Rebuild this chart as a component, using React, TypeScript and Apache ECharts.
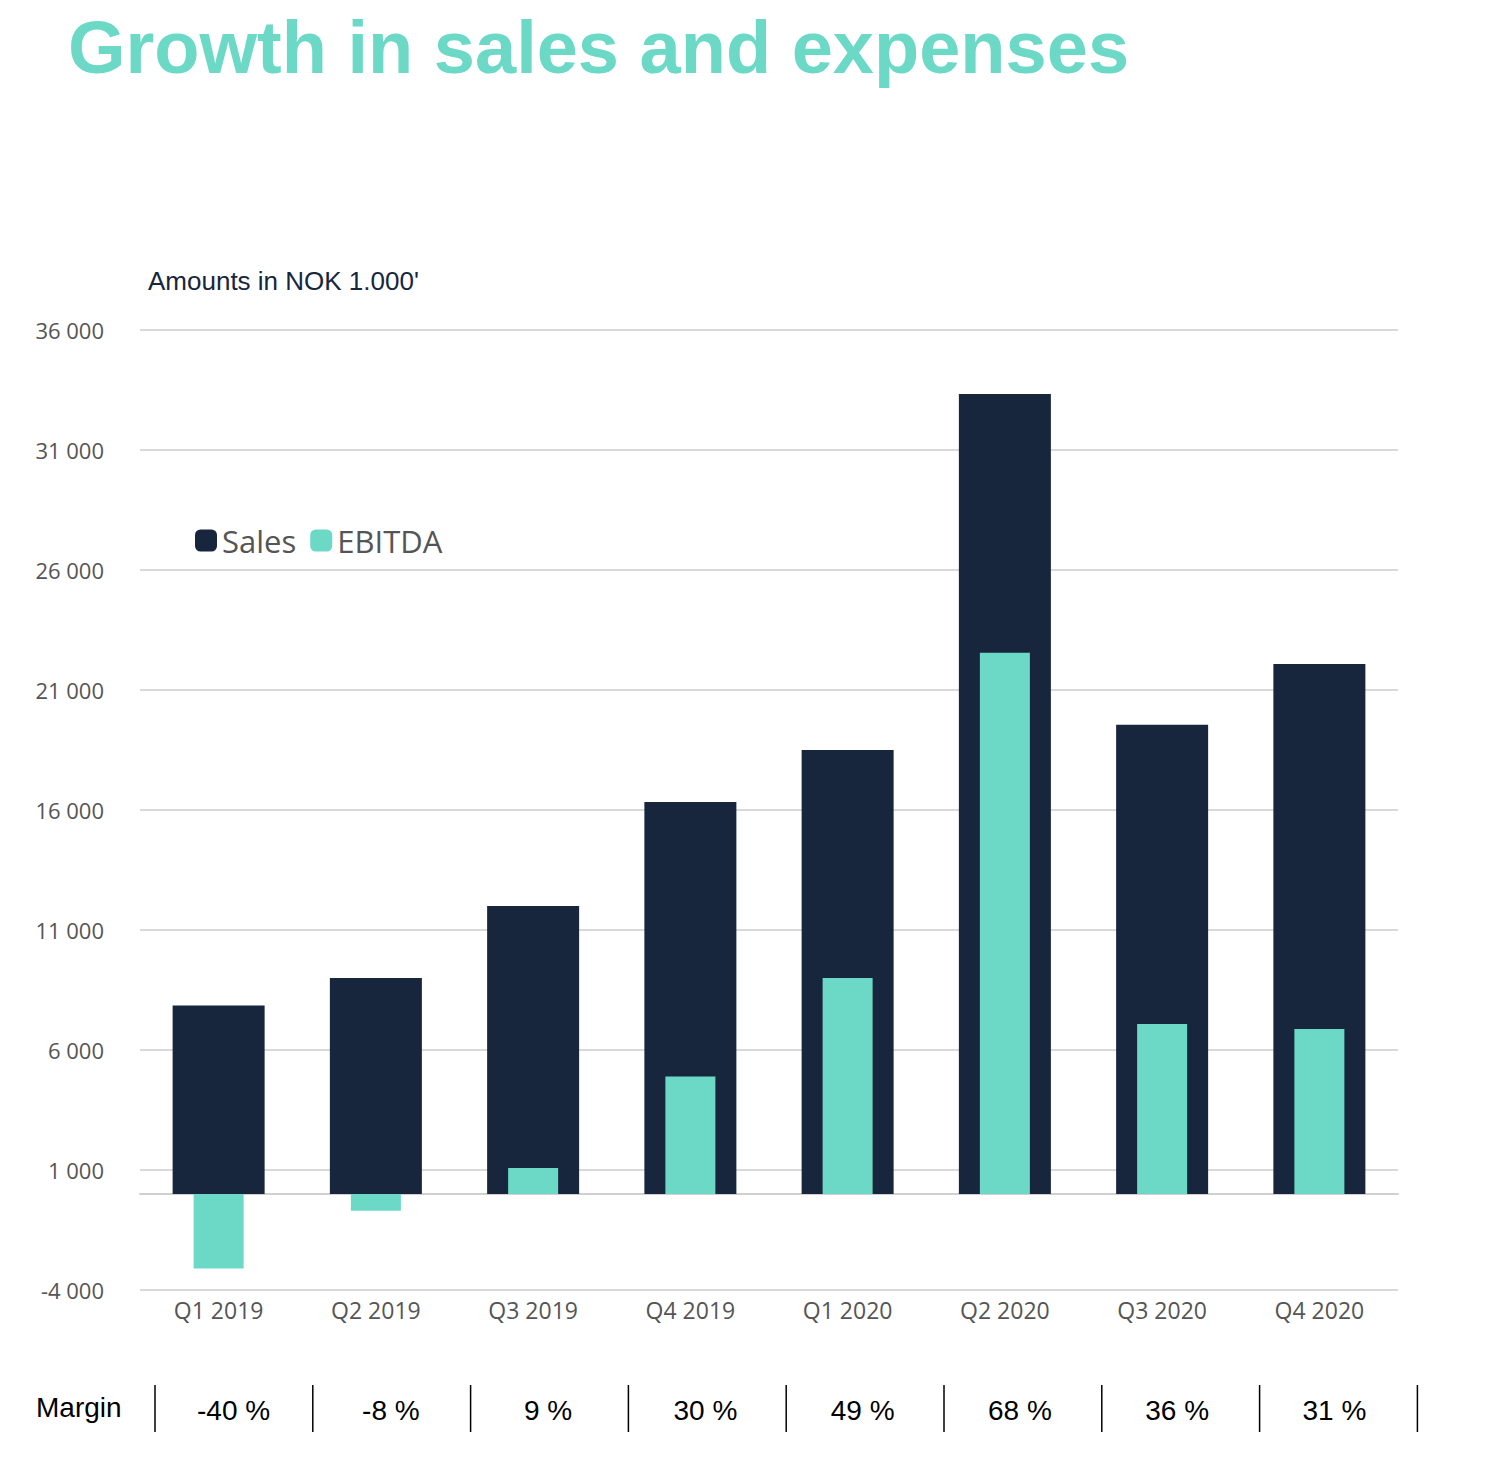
import React, { useEffect, useRef } from "react";
import * as echarts from "echarts";

const categories = ["Q1 2019", "Q2 2019", "Q3 2019", "Q4 2019", "Q1 2020", "Q2 2020", "Q3 2020", "Q4 2020"];
const sales = [7850, 9000, 12000, 16330, 18500, 33330, 19550, 22080];
const ebitda = [-3100, -700, 1080, 4900, 9000, 22550, 7080, 6870];
const margins = ["-40 %", "-8 %", "9 %", "30 %", "49 %", "68 %", "36 %", "31 %"];

const TEAL = "#6cd8c6";
const NAVY = "#17263c";

export default function App() {
  const ref = useRef<HTMLDivElement>(null);
  useEffect(() => {
    document.body.style.margin = "0";
    const chart = echarts.init(ref.current!, null, { renderer: "svg" });
    const gridLeft = 140, gridRight = 1398;
    const step = (gridRight - gridLeft) / categories.length;
    const graphic: any[] = [
      { type: "text", left: 68, top: 10, style: { text: "Growth in sales and expenses", fill: TEAL, font: "bold 74px 'Liberation Sans', Arial, sans-serif" } },
      { type: "text", left: 148, top: 268, style: { text: "Amounts in NOK 1.000'", fill: NAVY, font: "26px 'Liberation Sans', Arial, sans-serif" } },
      { type: "text", left: 36, top: 1393, style: { text: "Margin", fill: "#000", font: "28px 'Liberation Sans Narrow', 'Liberation Sans', sans-serif" } },
    ];
    for (let i = 0; i <= categories.length; i++) {
      const x = 155 + i * 157.8;
      graphic.push({ type: "line", shape: { x1: x, y1: 1385, x2: x, y2: 1432 }, style: { stroke: "#000", lineWidth: 1.5 } });
    }
    margins.forEach((m, i) => {
      graphic.push({ type: "text", x: gridLeft + step * (i + 0.5) + 15, y: 1410, style: { text: m, fill: "#000", align: "center", verticalAlign: "middle", font: "28px 'Liberation Sans Narrow', 'Liberation Sans', sans-serif" } });
    });
    chart.setOption({
      animation: false,
      graphic,
      legend: {
        left: 190, top: 520, itemWidth: 22, itemHeight: 22, itemGap: 14,
        textStyle: { fontSize: 31, color: "#555", fontFamily: "'Open Sans', sans-serif" },
        data: ["Sales", "EBITDA"],
      },
      grid: { left: gridLeft, right: 1490 - gridRight, top: 330, bottom: 1474 - 1290 },
      xAxis: [
        { type: "category", data: categories, axisTick: { show: false }, axisLine: { onZero: true, lineStyle: { color: "#d0d0d0", width: 2 } },
          axisLabel: { position: "bottom", color: "#555", fontSize: 23, fontFamily: "'Open Sans', sans-serif" } },
        { type: "category", data: categories, show: false },
      ],
      yAxis: {
        type: "value", min: -4000, max: 36000, interval: 5000,
        axisLine: { show: false }, axisTick: { show: false },
        splitLine: { lineStyle: { color: "#d9d9d9", width: 2 } },
        axisLabel: { color: "#555", fontSize: 22, margin: 36, fontFamily: "'Open Sans', sans-serif",
          formatter: (v: number) => { const s = Math.abs(v).toString(); const t = s.length > 3 ? s.slice(0, -3) + " " + s.slice(-3) : s; return (v < 0 ? "-" : "") + t; } },
      },
      series: [
        { name: "Sales", type: "bar", xAxisIndex: 0, data: sales, barWidth: 92, itemStyle: { color: NAVY } },
        { name: "EBITDA", type: "bar", xAxisIndex: 1, data: ebitda, barWidth: 50, itemStyle: { color: TEAL } },
      ],
    });
    return () => chart.dispose();
  }, []);
  return <div ref={ref} style={{ width: 1490, height: 1474 }} />;
}
